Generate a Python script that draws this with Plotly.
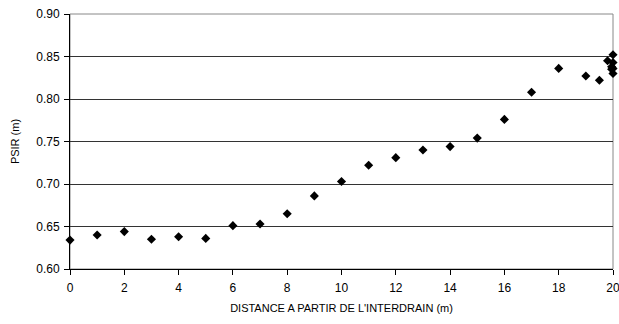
import plotly.graph_objects as go

distance = [0, 1, 2, 3, 4, 5, 6, 7, 8, 9, 10, 11, 12, 13, 14, 15, 16, 17, 18, 19, 19.5,
            19.8, 19.95, 19.95, 20, 20, 20, 20]
psir = [0.634, 0.640, 0.644, 0.635, 0.638, 0.636, 0.651, 0.653, 0.665, 0.686, 0.703,
        0.722, 0.731, 0.740, 0.744, 0.754, 0.776, 0.808, 0.836, 0.827, 0.822,
        0.845, 0.838, 0.835, 0.852, 0.843, 0.836, 0.830]

x_ticks = [0, 2, 4, 6, 8, 10, 12, 14, 16, 18, 20]
y_ticks = [0.60, 0.65, 0.70, 0.75, 0.80, 0.85, 0.90]

fig = go.Figure()
fig.add_trace(go.Scatter(
    x=distance, y=psir, mode="markers",
    marker=dict(symbol="diamond", size=7, color="black"),
    cliponaxis=False, showlegend=False, hoverinfo="skip",
))

font = dict(family="Liberation Sans, Arial, sans-serif", size=12, color="black")

fig.update_layout(
    width=619, height=324,
    margin=dict(l=70, r=6, t=14, b=55),
    paper_bgcolor="white", plot_bgcolor="white",
    font=font,
    hovermode=False,
    xaxis=dict(
        range=[0, 20], tickvals=x_ticks, ticks="outside", ticklen=5, tickcolor="black",
        showline=True, linecolor="black", linewidth=1, showgrid=False, zeroline=False,
        automargin=False, ticklabeloverflow="allow", ticklabelstandoff=3,
        title=dict(text="DISTANCE A PARTIR DE L'INTERDRAIN (m)", font=dict(size=11), standoff=9),
        tickfont=dict(size=12),
    ),
    yaxis=dict(
        range=[0.60, 0.90], tickvals=y_ticks, tickformat=".2f", ticks="outside", ticklen=5,
        tickcolor="black", showline=True, linecolor="black", linewidth=1,
        showgrid=True, gridcolor="#333333", gridwidth=1, zeroline=False,
        automargin=False, ticklabeloverflow="allow", ticklabelstandoff=2,
        title=dict(text="PSIR (m)", font=dict(size=11), standoff=14),
        tickfont=dict(size=12),
    ),
    shapes=[dict(type="rect", xref="paper", yref="paper", x0=0, y0=0, x1=1, y1=1,
                 line=dict(color="#888888", width=1), layer="below")],
)

fig.write_html(
    "out.html",
    config={"displayModeBar": False},
    post_script="document.body.style.margin='0';document.body.style.overflow='hidden';",
)
